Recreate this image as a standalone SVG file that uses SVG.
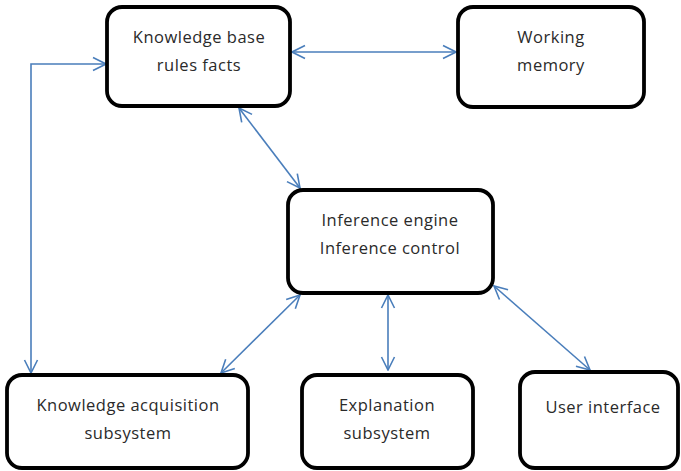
<svg xmlns="http://www.w3.org/2000/svg" width="681" height="471" viewBox="0 0 681 471">
  <style>
    .box { fill: #ffffff; stroke: #000000; stroke-width: 3.8; }
    .lbl { font-family: "Open Sans", "Liberation Sans", sans-serif; font-size: 16.5px; letter-spacing: 0.5px; fill: #2a2a2a; text-anchor: middle; }
    .link { fill: none; stroke: #4a7ebb; stroke-width: 1.6; marker-start: url(#tip); marker-end: url(#tip); }
  </style>
  <defs>
    <!-- open V-shaped arrowhead shared by every two-way link -->
    <marker id="tip" viewBox="0 0 16 16" refX="15" refY="8" markerWidth="16" markerHeight="16" markerUnits="userSpaceOnUse" orient="auto-start-reverse">
      <path d="M2,1.5 L15,8 L2,14.5" fill="none" stroke="#4a7ebb" stroke-width="1.6"/>
    </marker>
  </defs>

  <g id="connectors">
    <line class="link" x1="292" y1="52" x2="456" y2="52"/>
    <polyline class="link" points="106,64 31,64 31,373"/>
    <line class="link" x1="239" y1="108" x2="300" y2="188"/>
    <line class="link" x1="300" y1="295" x2="221" y2="373"/>
    <line class="link" x1="388" y1="295" x2="388" y2="370"/>
    <line class="link" x1="494" y1="286" x2="590" y2="370"/>
  </g>

  <g id="knowledge-base">
    <rect class="box" x="107" y="7" width="183" height="99" rx="15"/>
    <text class="lbl" x="199" y="43">Knowledge base</text>
    <text class="lbl" x="199" y="71">rules facts</text>
  </g>

  <g id="working-memory">
    <rect class="box" x="458" y="7" width="186" height="100" rx="15"/>
    <text class="lbl" x="551" y="43">Working</text>
    <text class="lbl" x="551" y="71">memory</text>
  </g>

  <g id="inference-engine">
    <rect class="box" x="288" y="190" width="205" height="103" rx="15"/>
    <text class="lbl" x="390" y="226">Inference engine</text>
    <text class="lbl" x="390" y="254">Inference control</text>
  </g>

  <g id="knowledge-acquisition">
    <rect class="box" x="7" y="375" width="241" height="93" rx="15"/>
    <text class="lbl" x="128" y="411">Knowledge acquisition</text>
    <text class="lbl" x="128" y="439">subsystem</text>
  </g>

  <g id="explanation">
    <rect class="box" x="302" y="375" width="171" height="93" rx="15"/>
    <text class="lbl" x="387" y="411">Explanation</text>
    <text class="lbl" x="387" y="439">subsystem</text>
  </g>

  <g id="user-interface">
    <rect class="box" x="520" y="372" width="158" height="96" rx="15"/>
    <text class="lbl" x="603" y="413">User interface</text>
  </g>
</svg>
